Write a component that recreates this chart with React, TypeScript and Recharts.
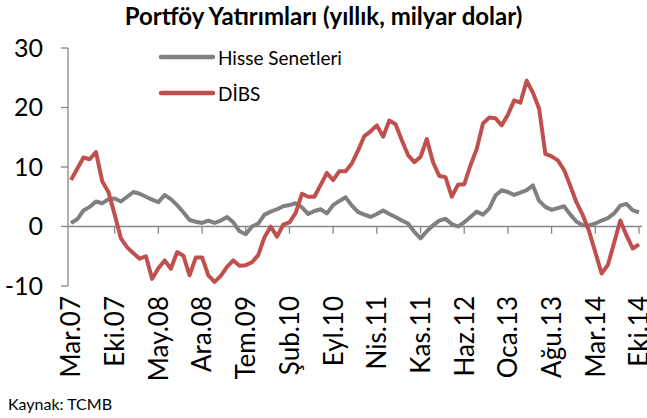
import React from 'react';
import { LineChart, Line, XAxis, YAxis, Legend, ReferenceLine } from 'recharts';

// month labels, Mar.07 .. Eki.14
const monthNames = ['Oca', 'Şub', 'Mar', 'Nis', 'May', 'Haz', 'Tem', 'Ağu', 'Eyl', 'Eki', 'Kas', 'Ara'];
const months: string[] = [];
for (let k = 0; k < 92; k++) {
  const m = (2 + k) % 12;
  const yr = 7 + Math.floor((2 + k) / 12);
  months.push(`${monthNames[m]}.${String(yr).padStart(2, '0')}`);
}

// Hisse Senetleri (milyar dolar)
const hisse = [
  0.6, 1.2, 2.7, 3.3, 4.2, 3.9, 4.6, 4.7, 4.2, 5.0,
  5.8, 5.5, 5.0, 4.5, 4.1, 5.3, 4.6, 3.6, 2.4, 1.1,
  0.8, 0.6, 1.0, 0.6, 1.0, 1.6, 0.7, -0.8, -1.3, 0.0,
  0.5, 2.0, 2.5, 2.9, 3.4, 3.6, 3.9, 3.2, 2.1, 2.6,
  2.9, 2.2, 3.6, 4.3, 4.9, 3.5, 2.4, 2.0, 1.6, 2.1,
  2.7, 2.1, 1.6, 1.0, 0.5, -0.9, -2.0, -0.8, 0.2, 1.0,
  1.3, 0.4, 0.0, 0.7, 1.6, 2.5, 2.0, 3.0, 5.2, 6.1,
  5.8, 5.3, 5.7, 6.1, 6.9, 4.3, 3.3, 2.8, 3.1, 3.4,
  2.0, 0.8, 0.2, 0.2, 0.5, 1.0, 1.4, 2.2, 3.5, 3.8,
  2.7, 2.4,
];

// DİBS (milyar dolar)
const dibs = [
  7.8, 9.7, 11.6, 11.3, 12.5, 7.6, 5.8, 2.0, -2.0, -3.5,
  -4.5, -5.4, -5.0, -8.8, -7.0, -5.7, -7.1, -4.3, -4.9, -8.2,
  -5.2, -5.2, -8.2, -9.3, -8.3, -6.8, -5.7, -6.6, -6.5, -6.0,
  -4.8, -1.8, 0.0, -1.7, 0.3, 0.7, 2.3, 5.5, 5.0, 5.0,
  7.0, 9.0, 7.8, 9.3, 9.3, 10.6, 12.8, 15.2, 16.0, 17.0,
  15.1, 17.8, 17.2, 14.5, 12.0, 10.8, 11.7, 14.7, 10.8, 8.5,
  8.3, 5.0, 7.0, 7.1, 10.3, 13.0, 17.3, 18.3, 18.2, 17.0,
  18.8, 21.2, 20.8, 24.5, 22.5, 19.8, 12.2, 11.8, 11.1, 9.5,
  6.8, 4.0, 1.9, -0.8, -4.3, -7.9, -6.5, -2.8, 1.0, -1.5,
  -3.7, -3.0,
];

const yTicks = [-10, 0, 10, 20, 30];
const legendOrder = ['Hisse Senetleri', 'DİBS'];

const data = months.map((m, i) => ({ month: m, hisse: hisse[i], dibs: dibs[i] }));
const tickMonths = months.filter((_, i) => i % 7 === 0 && i > 0);

const axisColor = '#868686';
const font = 'Lato, "Open Sans", sans-serif';

const XTick = ({ x, y, payload }: any) => (
  <text
    x={x}
    y={y}
    transform={`rotate(-90, ${x}, ${y})`}
    textAnchor="end"
    dy="0.36em"
    fontSize={26}
    fill="#000"
    fontFamily={font}
  >
    {payload.value}
  </text>
);

const renderLegend = (props: any) => {
  const items = [...props.payload].sort(
    (a: any, b: any) => legendOrder.indexOf(a.value) - legendOrder.indexOf(b.value)
  );
  return (
    <div>
      {items.map((item: any) => (
        <div key={item.value} style={{ display: 'flex', alignItems: 'center', height: 36 }}>
          <svg width={58} height={10}>
            <line x1={3} y1={5} x2={55} y2={5} stroke={item.color} strokeWidth={4.5} strokeLinecap="round" />
          </svg>
          <span style={{ fontSize: 19, marginLeft: 2, color: '#000', fontFamily: font }}>{item.value}</span>
        </div>
      ))}
    </div>
  );
};

export default function App() {
  return (
    <div style={{ position: 'absolute', left: 0, top: 0, width: 647, height: 418, background: '#fff', fontFamily: font }}>
      <div style={{ position: 'absolute', top: 1, left: 0, width: 647, textAlign: 'center', fontWeight: 700, fontSize: 24 }}>
        Portföy Yatırımları (yıllık, milyar dolar)
      </div>
      <LineChart width={647} height={418} data={data} margin={{ top: 48, right: 5, left: 8, bottom: 22 }}>
        <XAxis
          dataKey="month"
          interval={6}
          axisLine={false}
          tickLine={false}
          tick={<XTick />}
          tickMargin={4}
          padding={{ left: 3, right: 3 }}
          height={110}
        />
        <YAxis
          domain={[-10, 30]}
          ticks={yTicks}
          width={60}
          tickSize={7}
          tickMargin={18}
          axisLine={{ stroke: axisColor, strokeWidth: 1.3 }}
          tickLine={{ stroke: axisColor, strokeWidth: 1.3 }}
          tick={{ fontSize: 25, fill: '#000', fontFamily: font }}
        />
        <ReferenceLine y={0} stroke={axisColor} strokeWidth={1.5} />
        {tickMonths.map((m) => (
          <ReferenceLine
            key={m}
            segment={[{ x: m, y: 0 }, { x: m, y: -1.2 }]}
            stroke={axisColor}
            strokeWidth={1.3}
          />
        ))}
        <Legend
          layout="vertical"
          align="center"
          verticalAlign="middle"
          content={renderLegend}
          wrapperStyle={{ left: 158, top: 39, width: 'auto' }}
        />
        <Line
          type="linear"
          dataKey="hisse"
          name="Hisse Senetleri"
          stroke="#808080"
          strokeWidth={4}
          dot={false}
          strokeLinejoin="round"
          isAnimationActive={false}
        />
        <Line
          type="linear"
          dataKey="dibs"
          name="DİBS"
          stroke="#C0504D"
          strokeWidth={4}
          dot={false}
          strokeLinejoin="round"
          isAnimationActive={false}
        />
      </LineChart>
      <div style={{ position: 'absolute', left: 8, top: 394, fontSize: 16, color: '#000' }}>Kaynak: TCMB</div>
    </div>
  );
}
